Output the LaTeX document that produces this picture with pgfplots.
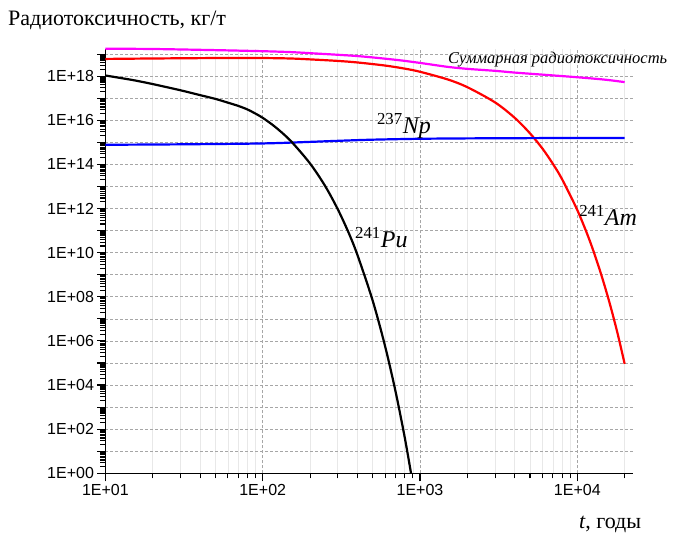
\documentclass[border=0pt]{standalone}
\usepackage{fontspec}
\setmainfont{Liberation Serif}
\newfontfamily\arial{Liberation Sans}
\usepackage{pgfplots}
\pgfplotsset{compat=1.18}

\definecolor{summag}{RGB}{255,0,255}
\definecolor{amred}{RGB}{255,0,0}
\definecolor{npblue}{RGB}{0,0,255}

\begin{document}
\begin{tikzpicture}
\useasboundingbox (-105.4bp,-59.7bp) rectangle (567.6bp,473.3bp);
\begin{axis}[
  at={(0,0)}, anchor=south west,
  scale only axis,
  width=527.6bp, height=424.3bp,
  xmode=log, ymode=log,
  xmin=10, xmax=2.26e4,
  ymin=1, ymax=1.7e19,
  clip=false,
  axis x line=bottom, axis y line=left,
  xtick pos=bottom, ytick pos=left,
  axis line style={-, line width=1.4bp},
  tick align=outside,
  major tick length=8bp, minor tick length=5bp,
  tick style={black, line width=1.1bp},
  xtick={10,100,1000,10000},
  xticklabels={1E+01,1E+02,1E+03,1E+04},
  minor xtick={20,30,40,50,60,70,80,90,200,300,400,500,600,700,800,900,
    2000,3000,4000,5000,6000,7000,8000,9000,20000},
  ytick={1,1e1,1e2,1e3,1e4,1e5,1e6,1e7,1e8,1e9,1e10,1e11,1e12,1e13,1e14,1e15,1e16,1e17,1e18,1e19},
  yticklabels={1E+00,{},1E+02,{},1E+04,{},1E+06,{},1E+08,{},1E+10,{},1E+12,{},1E+14,{},1E+16,{},1E+18,{}},
  minor ytick={2,3,4,5,6,7,8,9,
    2e1,3e1,4e1,5e1,6e1,7e1,8e1,9e1, 2e2,3e2,4e2,5e2,6e2,7e2,8e2,9e2,
    2e3,3e3,4e3,5e3,6e3,7e3,8e3,9e3, 2e4,3e4,4e4,5e4,6e4,7e4,8e4,9e4,
    2e5,3e5,4e5,5e5,6e5,7e5,8e5,9e5, 2e6,3e6,4e6,5e6,6e6,7e6,8e6,9e6,
    2e7,3e7,4e7,5e7,6e7,7e7,8e7,9e7, 2e8,3e8,4e8,5e8,6e8,7e8,8e8,9e8,
    2e9,3e9,4e9,5e9,6e9,7e9,8e9,9e9, 2e10,3e10,4e10,5e10,6e10,7e10,8e10,9e10,
    2e11,3e11,4e11,5e11,6e11,7e11,8e11,9e11, 2e12,3e12,4e12,5e12,6e12,7e12,8e12,9e12,
    2e13,3e13,4e13,5e13,6e13,7e13,8e13,9e13, 2e14,3e14,4e14,5e14,6e14,7e14,8e14,9e14,
    2e15,3e15,4e15,5e15,6e15,7e15,8e15,9e15, 2e16,3e16,4e16,5e16,6e16,7e16,8e16,9e16,
    2e17,3e17,4e17,5e17,6e17,7e17,8e17,9e17, 2e18,3e18,4e18,5e18,6e18,7e18,8e18,9e18},
  tick label style={font=\arial\fontsize{16bp}{18bp}\selectfont},
  xmajorgrids, xminorgrids, ymajorgrids, yminorgrids=false,
  major grid style={gray!70, line width=0.6bp, dash pattern=on 3bp off 2bp},
  minor grid style={gray!18, line width=0.6bp},
]
% суммарная
\addplot[summag, line width=2.2bp, smooth] coordinates {
  (10,1.75e19)(20,1.70e19)(50,1.51e19)(100,1.35e19)(150,1.23e19)(200,1.10e19)
  (400,8.13e18)(700,5.50e18)(1000,3.98e18)(1500,2.63e18)(2000,2.14e18)
  (3000,1.74e18)(4000,1.45e18)(6000,1.17e18)(10000,8.91e17)(15000,6.92e17)(20000,5.37e17)};
% Am-241
\addplot[amred, line width=2.2bp, smooth] coordinates {
  (10,6.03e18)(20,6.31e18)(50,6.61e18)(100,6.61e18)(150,6.31e18)(200,5.75e18)
  (300,4.90e18)(400,4.17e18)(600,3.02e18)(800,2.19e18)(1000,1.58e18)(1500,7.08e17)
  (2000,3.16e17)(3000,6.46e16)(4000,1.29e16)(5000,2.57e15)(6000,5.25e14)(7000,1.05e14)
  (8000,2.14e13)(10000,8.51e11)(12000,3.47e10)(14000,1.38e9)(16000,5.62e7)
  (18000,2.29e6)(20000,9.12e4)};
% Np-237
\addplot[npblue, line width=2.2bp, smooth] coordinates {
  (10,7.76e14)(30,8.13e14)(100,8.91e14)(200,1.05e15)(300,1.17e15)(500,1.32e15)
  (1000,1.45e15)(2000,1.51e15)(5000,1.55e15)(10000,1.58e15)(20000,1.58e15)};
% Pu-241
\addplot[black, line width=2.2bp, smooth] coordinates {
  (10,1.07e18)(15,6.61e17)(20,4.37e17)(30,2.29e17)(40,1.38e17)(50,9.33e16)
  (60,6.31e16)(70,4.47e16)(80,3.09e16)(90,2.00e16)(100,1.29e16)(120,5.01e15)
  (150,1.20e15)(200,1.10e14)(250,1.02e13)(300,9.33e11)(350,8.71e10)(400,7.94e9)
  (500,6.76e7)(600,5.75e5)(700,4.90e3)(800,41.7)(877,1)};

\node[anchor=base west, font=\itshape\fontsize{16.5bp}{18bp}\selectfont, inner sep=0pt]
  at (axis cs:1507,3.63e18) {Суммарная радиотоксичность};
\node[anchor=base west, font=\fontsize{24bp}{26bp}\selectfont, inner sep=0pt]
  at (axis cs:532,2.63e15) {\textsuperscript{237}\textit{Np}};
\node[anchor=base west, font=\fontsize{24bp}{26bp}\selectfont, inner sep=0pt]
  at (axis cs:386,1.74e10) {\textsuperscript{241}\textit{Pu}};
\node[anchor=base west, font=\fontsize{24bp}{26bp}\selectfont, inner sep=0pt]
  at (axis cs:10260,1.74e11) {\textsuperscript{241}\textit{Am}};
\end{axis}
\node[anchor=base west, font=\fontsize{22bp}{24bp}\selectfont, inner sep=0pt]
  at (-97.4bp,447.3bp) {Радиотоксичность, кг/т};
\node[anchor=base west, font=\fontsize{22bp}{24bp}\selectfont, inner sep=0pt]
  at (473.6bp,-54.7bp) {\textit{t}, годы};
\end{tikzpicture}
\end{document}
